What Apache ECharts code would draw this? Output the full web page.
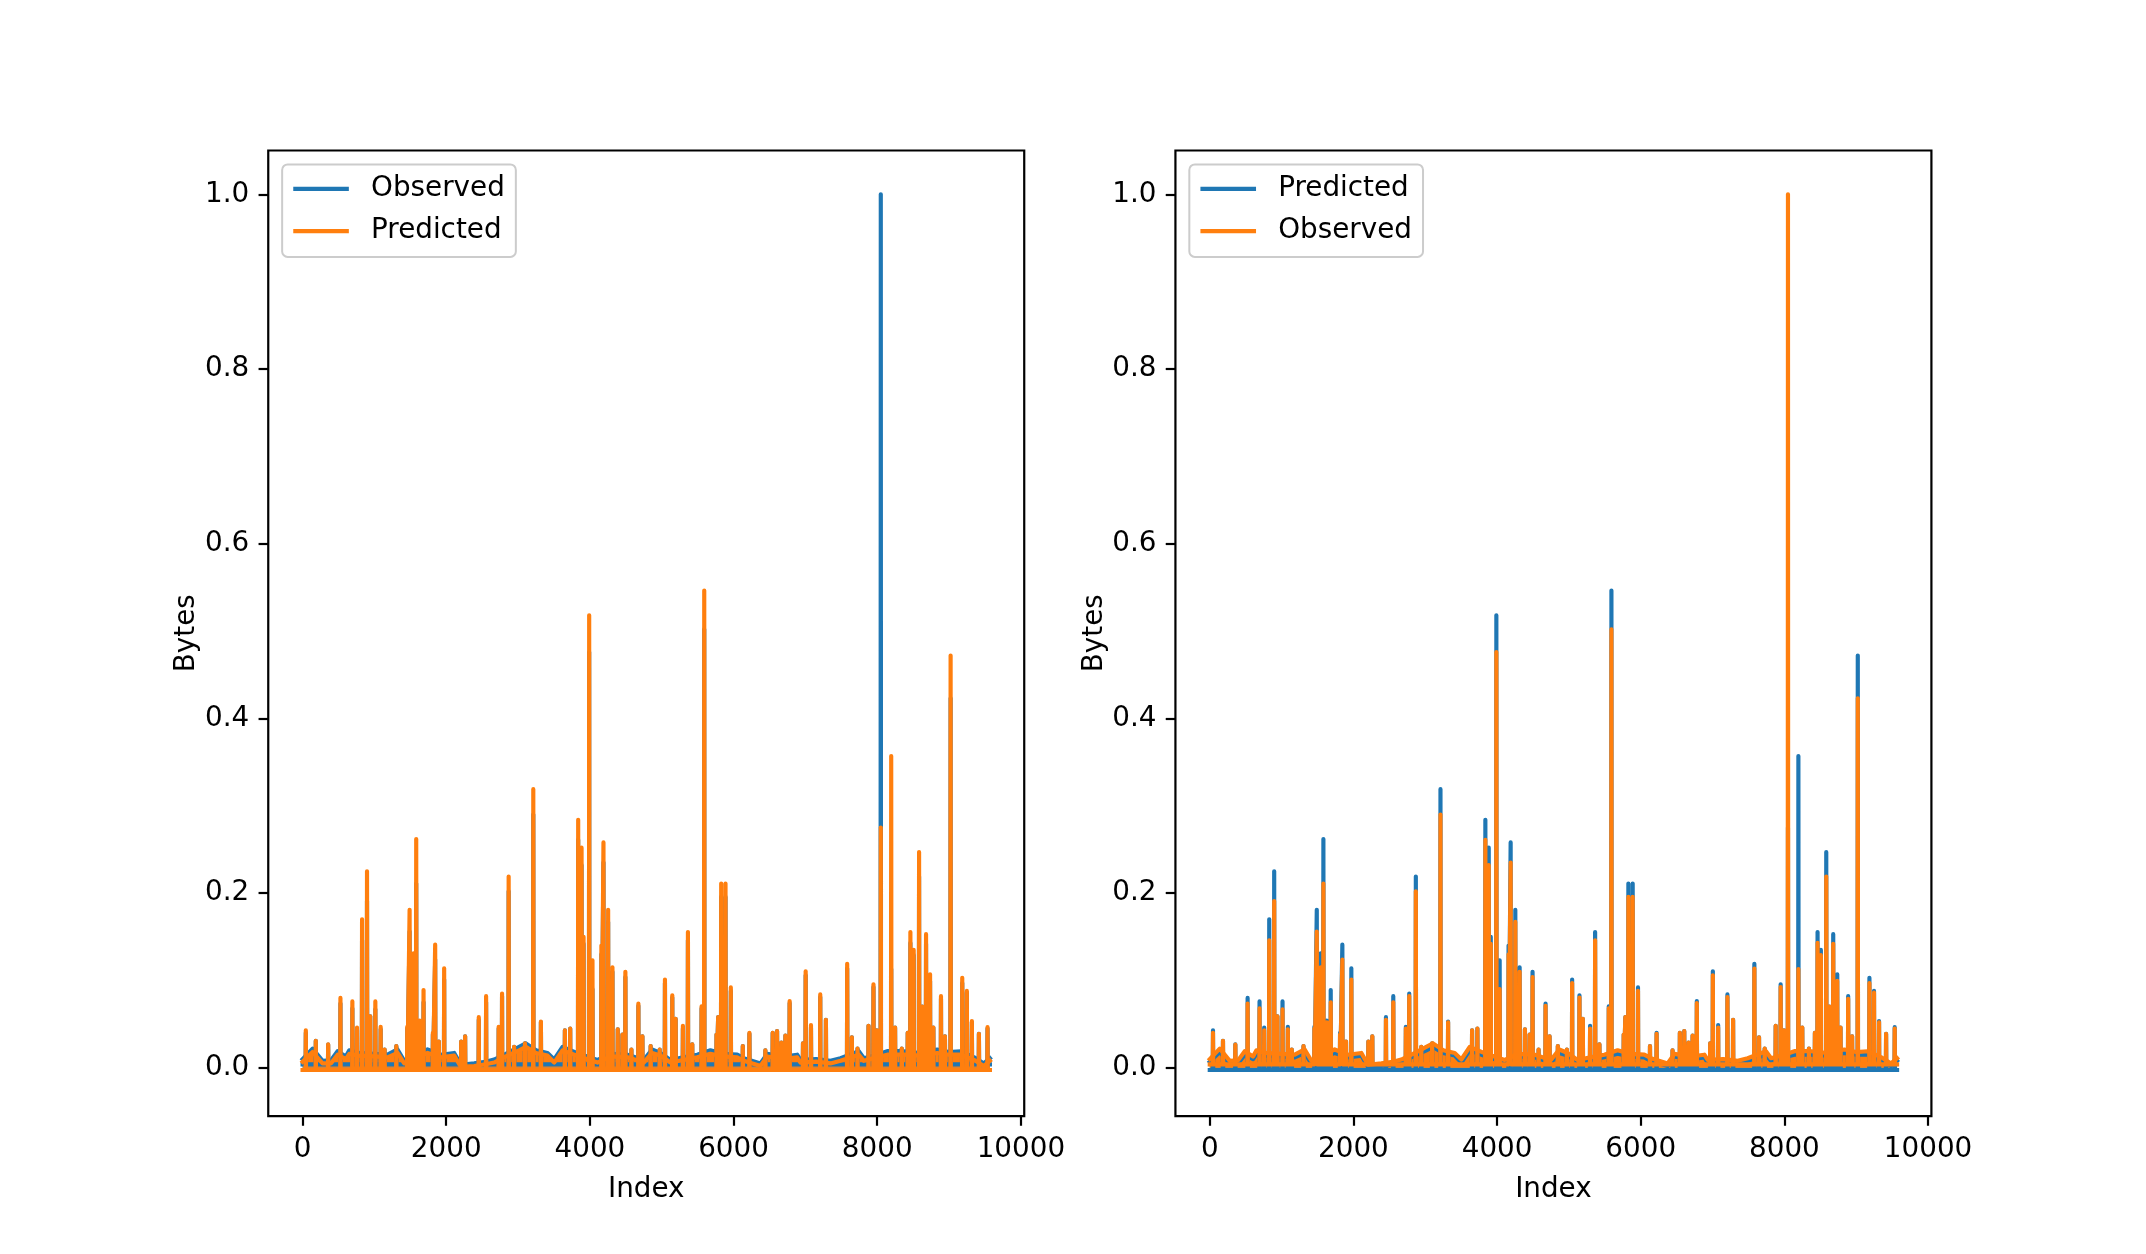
<!DOCTYPE html>
<html>
<head>
<meta charset="utf-8">
<script src="https://cdn.jsdelivr.net/npm/echarts@6/dist/echarts.min.js"></script>
<style>
html,body{margin:0;padding:0;background:#fff;}
#chart{width:2146px;height:1254px;}
</style>
</head>
<body>
<div id="chart"></div>
<script>
// ---- data ----
const xTicks = [0, 2000, 4000, 6000, 8000, 10000];
const yTicks = [0.0, 0.2, 0.4, 0.6, 0.8, 1.0];

// spike positions and peak heights
const spikeIdx = [45,184,356,527,693,758,828,897,942,1013,1087,1142,1305,1457,1490,1545,1582,1629,1684,1814,1846,1897,1971,2208,2263,2453,2555,2730,2777,2869,2945,3096,3212,3318,3652,3726,3837,3884,3912,3990,4036,4160,4189,4254,4314,4388,4453,4494,4578,4675,4731,4846,4972,5045,5147,5194,5295,5365,5425,5555,5592,5763,5786,5828,5888,5962,6129,6221,6443,6545,6606,6666,6722,6781,6967,7004,7078,7207,7286,7582,7647,7726,7879,7948,7994,8050,8195,8249,8342,8425,8462,8508,8583,8628,8680,8736,8782,8888,8943,9022,9184,9248,9318,9416,9536];
const spikePred = [0.043,0.031,0.027,0.080,0.076,0.046,0.170,0.225,0.059,0.076,0.047,0.021,0.025,0.047,0.181,0.131,0.262,0.054,0.089,0.040,0.141,0.030,0.114,0.030,0.036,0.058,0.082,0.047,0.085,0.219,0.024,0.028,0.319,0.053,0.043,0.045,0.284,0.252,0.150,0.518,0.123,0.140,0.258,0.181,0.115,0.044,0.038,0.110,0.021,0.0735,0.036,0.025,0.021,0.101,0.083,0.056,0.048,0.1555,0.027,0.0705,0.5465,0.038,0.058,0.211,0.211,0.092,0.025,0.040,0.020,0.040,0.042,0.029,0.037,0.0765,0.028,0.1105,0.049,0.084,0.055,0.119,0.035,0.022,0.048,0.0956,0.043,0.275,0.357,0.046,0.022,0.040,0.1555,0.135,0.247,0.070,0.153,0.107,0.046,0.082,0.036,0.472,0.103,0.088,0.0536,0.039,0.0465];
const spikeObs = [0.040,0.031,0.0265,0.0735,0.068,0.043,0.146,0.191,0.059,0.067,0.044,0.021,0.025,0.045,0.156,0.115,0.211,0.052,0.075,0.038,0.124,0.030,0.101,0.030,0.036,0.055,0.075,0.045,0.082,0.202,0.024,0.028,0.290,0.052,0.043,0.045,0.261,0.232,0.142,0.476,0.090,0.130,0.235,0.167,0.110,0.044,0.038,0.104,0.021,0.071,0.036,0.025,0.021,0.097,0.0805,0.056,0.045,0.146,0.027,0.068,0.502,0.038,0.058,0.1956,0.1956,0.088,0.025,0.039,0.020,0.040,0.042,0.029,0.037,0.074,0.028,0.106,0.046,0.081,0.055,0.1136,0.035,0.022,0.048,0.0925,0.043,1.000,0.113,0.046,0.022,0.040,0.143,0.129,0.219,0.070,0.142,0.0995,0.046,0.079,0.036,0.423,0.097,0.086,0.052,0.039,0.045];

// dense low-level band (top edge) of each series
const baseIdx = [0,139,278,394,487,603,650,766,1000,1183,1322,1415,1600,1740,1925,2111,2203,2389,2550,2667,2830,3015,3108,3250,3410,3503,3619,3850,4106,4292,4524,4750,4865,4982,5121,5300,5493,5678,5850,6050,6142,6375,6468,6700,6886,6932,7150,7350,7489,7744,7814,8000,8139,8371,8600,8835,9000,9160,9350,9485,9569];
const obsBase = [0.010,0.022,0.008,0.0085,0.019,0.013,0.020,0.017,0.016,0.015,0.021,0.008,0.015,0.021,0.015,0.017,0.0035,0.005,0.007,0.0095,0.016,0.024,0.028,0.020,0.017,0.0095,0.024,0.016,0.009,0.016,0.015,0.009,0.021,0.017,0.009,0.012,0.015,0.020,0.016,0.015,0.011,0.005,0.016,0.013,0.015,0.009,0.010,0.008,0.011,0.019,0.011,0.015,0.019,0.019,0.017,0.021,0.018,0.019,0.012,0.005,0.011];
const predBase = [0.007,0.018,0.005,0.005,0.015,0.010,0.016,0.014,0.013,0.012,0.017,0.005,0.012,0.017,0.012,0.014,0.001,0.002,0.004,0.006,0.013,0.020,0.024,0.017,0.014,0.006,0.020,0.013,0.006,0.013,0.012,0.006,0.017,0.014,0.006,0.009,0.012,0.016,0.013,0.012,0.008,0.002,0.013,0.010,0.012,0.006,0.007,0.005,0.008,0.015,0.008,0.012,0.015,0.015,0.014,0.017,0.015,0.015,0.009,0.002,0.008];
const obsFloor = 0.004;
const predFloor = -0.0025;
const lastIdx = 9569;

// ---- build ----
const BLUE = '#1f77b4', ORANGE = '#ff7f0e';
const FONT = 'DejaVu Sans';
const FS = 27.8;
const LW = 4.17;

function spikeData(heights, floor) {
  const d = [[0, floor]];
  spikeIdx.forEach((x, k) => {
    d.push([x - 3, floor], [x, heights[k]], [x + 3, floor]);
  });
  d.push([lastIdx, floor]);
  return d;
}
function bandData(vals) {
  return baseIdx.map((x, k) => [x, vals[k]]);
}
function bandSeries(name, vals, color, gi) {
  return {
    name, type: 'line', xAxisIndex: gi, yAxisIndex: gi, data: bandData(vals),
    showSymbol: false, symbol: 'none', silent: true, animation: false,
    lineStyle: {width: LW, color, join: 'round', cap: 'square'},
    areaStyle: {color, opacity: 1, origin: 'auto'}
  };
}
function spikeSeries(name, vals, color, floor, gi) {
  return {
    name, type: 'line', xAxisIndex: gi, yAxisIndex: gi, data: spikeData(vals, floor),
    showSymbol: false, symbol: 'none', silent: true, animation: false,
    lineStyle: {width: LW, color, join: 'round', cap: 'square'}
  };
}

const AX_W = 755.98, AX_H = 965.58, TOP = 150.48;
const LEFTS = [268.25, 1175.43];

function xAxis(gi) {
  return {
    gridIndex: gi, type: 'value', min: -478, max: 10047,
    splitLine: {show: false}, axisLine: {show: false, onZero: false},
    axisTick: {show: true, length: 9.7, lineStyle: {color: '#000', width: 2.2}, customValues: xTicks},
    axisLabel: {customValues: xTicks, fontSize: FS, color: '#000', fontFamily: FONT, margin: 20,
      formatter: v => String(Math.round(v))},
    name: 'Index', nameLocation: 'middle', nameGap: 60,
    nameTextStyle: {fontSize: FS, color: '#000', fontFamily: FONT}
  };
}
function yAxis(gi) {
  return {
    gridIndex: gi, type: 'value', min: -0.05525, max: 1.05025,
    splitLine: {show: false}, axisLine: {show: false, onZero: false},
    axisTick: {show: true, length: 9.7, lineStyle: {color: '#000', width: 2.2}, customValues: yTicks},
    axisLabel: {customValues: yTicks, fontSize: FS, color: '#000', fontFamily: FONT, margin: 19,
      formatter: v => Number(v).toFixed(1)},
    name: 'Bytes', nameLocation: 'middle', nameGap: 66,
    nameTextStyle: {fontSize: FS, color: '#000', fontFamily: FONT}
  };
}

function legendGraphic(left, labels, colors) {
  const boxL = left + 13.9, boxT = TOP + 13.9;
  const rows = [boxT + 24.5, boxT + 66.8];
  const els = [{
    type: 'rect', shape: {x: boxL, y: boxT, width: 233.7, height: 92.5, r: 5.5},
    style: {fill: 'rgba(255,255,255,0.8)', stroke: '#cccccc', lineWidth: 2}, z: 100
  }];
  labels.forEach((lab, k) => {
    els.push({
      type: 'line', shape: {x1: boxL + 11.1, y1: rows[k], x2: boxL + 66.7, y2: rows[k]},
      style: {stroke: colors[k], lineWidth: LW}, z: 101
    });
    els.push({
      type: 'text', x: boxL + 88.9, y: rows[k],
      style: {text: lab, fontSize: FS, fontFamily: FONT, fill: '#000', verticalAlign: 'middle', align: 'left'}, z: 101
    });
  });
  return els;
}

const chart = echarts.init(document.getElementById('chart'), null, {renderer: 'canvas'});
chart.setOption({
  backgroundColor: '#fff',
  animation: false,
  grid: LEFTS.map(l => ({left: l, top: TOP, width: AX_W, height: AX_H, show: true,
    borderColor: '#000', borderWidth: 2.2, backgroundColor: 'transparent', containLabel: false})),
  xAxis: [xAxis(0), xAxis(1)],
  yAxis: [yAxis(0), yAxis(1)],
  series: [
    // left: Observed (blue) then Predicted (orange)
    bandSeries('Observed', obsBase, BLUE, 0),
    spikeSeries('Observed', spikeObs, BLUE, obsFloor, 0),
    bandSeries('Predicted', predBase, ORANGE, 0),
    spikeSeries('Predicted', spikePred, ORANGE, predFloor, 0),
    // right: Predicted (blue) then Observed (orange)
    bandSeries('Predicted', predBase, BLUE, 1),
    spikeSeries('Predicted', spikePred, BLUE, predFloor, 1),
    bandSeries('Observed', obsBase, ORANGE, 1),
    spikeSeries('Observed', spikeObs, ORANGE, obsFloor, 1)
  ],
  graphic: [
    ...legendGraphic(LEFTS[0], ['Observed', 'Predicted'], [BLUE, ORANGE]),
    ...legendGraphic(LEFTS[1], ['Predicted', 'Observed'], [BLUE, ORANGE])
  ]
});
</script>
</body>
</html>
